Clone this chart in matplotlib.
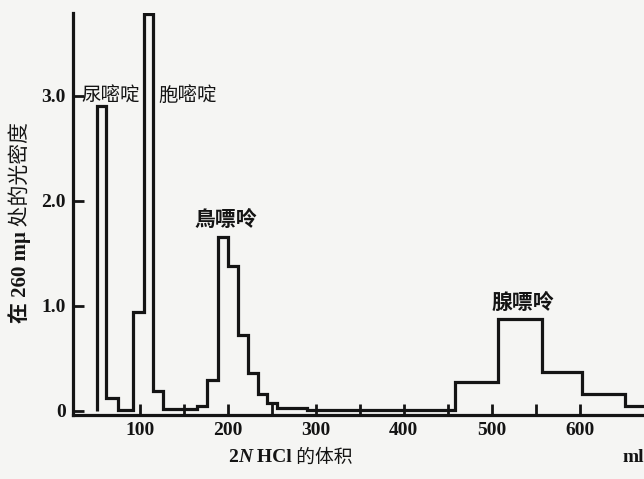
import matplotlib.pyplot as plt

# ── Data ──────────────────────────────────────────────────────────
edges = [51, 61, 75, 92, 105, 115, 126, 165, 176, 189, 200, 211, 223,
         234, 244, 256, 290, 458, 507, 557, 603, 651, 690]
optical_density = [2.90, 0.12, 0.01, 0.94, 3.78, 0.19, 0.02, 0.05, 0.29,
                   1.66, 1.38, 0.72, 0.36, 0.16, 0.07, 0.03, 0.01, 0.27,
                   0.87, 0.37, 0.16, 0.05]
x_ticks_major = [100, 200, 300, 400, 500, 600]
x_ticks_minor = [150, 250, 350, 450, 550]
y_ticks = [0, 1.0, 2.0, 3.0]
y_ticklabels = ["0", "1.0", "2.0", "3.0"]

peak_labels = ["尿嘧啶", "胞嘧啶", "鳥嘌呤", "腺嘌呤"]

# ── Figure ────────────────────────────────────────────────────────
W, H = 644, 479
bg = "#f5f5f3"
ink = "#141414"
fig = plt.figure(figsize=(W / 100, H / 100), dpi=100, facecolor=bg)

left_px, right_px, bottom_px, top_px = 73, 644, 415, 13
ax = fig.add_axes([left_px / W, 1 - bottom_px / H,
                   (right_px - left_px) / W, (bottom_px - top_px) / H])
ax.set_facecolor(bg)
ax.set_xlim(24, 673)
ax.set_ylim(-0.04, 3.79)

ax.stairs(optical_density, edges, baseline=0, color=ink, lw=2.3)

for s in ["top", "right"]:
    ax.spines[s].set_visible(False)
for s in ["left", "bottom"]:
    ax.spines[s].set_linewidth(2.3)
    ax.spines[s].set_color(ink)

serif = ["Liberation Serif", "Noto Sans CJK SC"]
cjk = ["Noto Sans CJK SC", "DejaVu Sans"]

ax.set_xticks(x_ticks_major)
ax.set_xticks(x_ticks_minor, minor=True)
ax.set_xticklabels([str(v) for v in x_ticks_major], family=serif,
                   fontweight="bold", fontsize=14, color=ink)
ax.tick_params(axis="x", which="both", direction="in", length=8,
               width=2, color=ink, pad=5)
ax.set_yticks(y_ticks)
ax.set_yticklabels(y_ticklabels, family=serif, fontweight="bold",
                   fontsize=14, color=ink)
ax.tick_params(axis="y", direction="in", length=8, width=2, color=ink, pad=5)

# peak labels
ax.text(34, 3.0, peak_labels[0], family=cjk, fontsize=14, color=ink,
        ha="left", va="center")
ax.text(121, 3.0, peak_labels[1], family=cjk, fontsize=14, color=ink,
        ha="left", va="center")
ax.text(198, 1.72, peak_labels[2], family=cjk, fontsize=15,
        fontweight="bold", color=ink, ha="center", va="bottom")
ax.text(535, 0.93, peak_labels[3], family=cjk, fontsize=15,
        fontweight="bold", color=ink, ha="center", va="bottom")

# y title: serif part bold, CJK part regular, stacked upward
t = fig.text(20 / W, 1 - 323 / H, "在 260 mμ", family=serif,
             fontsize=15, fontweight="bold", color=ink, rotation=90,
             ha="center", va="bottom")
ax.annotate(" 处的光密度", xy=(0.5, 1), xycoords=t, rotation=90,
            ha="center", va="bottom", family=cjk, fontsize=15, color=ink)

# x title
t = fig.text(228 / W, 1 - 457 / H, "2", family=serif, fontweight="bold",
             fontsize=14, color=ink, ha="left", va="center")
t = ax.annotate("N", xy=(1, 0), xycoords=t, va="bottom", ha="left",
                family=serif, fontweight="bold", fontstyle="italic",
                fontsize=14, color=ink)
t = ax.annotate(" HCl", xy=(1, 0), xycoords=t, va="bottom", ha="left",
                family=serif, fontweight="bold", fontsize=14, color=ink)
ax.annotate(" 的体积", xy=(1, 0.5), xycoords=t, va="center", ha="left",
            family=cjk, fontsize=13.5, color=ink)
fig.text(633 / W, 1 - 457 / H, "ml", family=serif, fontweight="bold",
         fontsize=14, color=ink, ha="center", va="center")

fig.savefig("out.png", dpi=100, facecolor=bg)
